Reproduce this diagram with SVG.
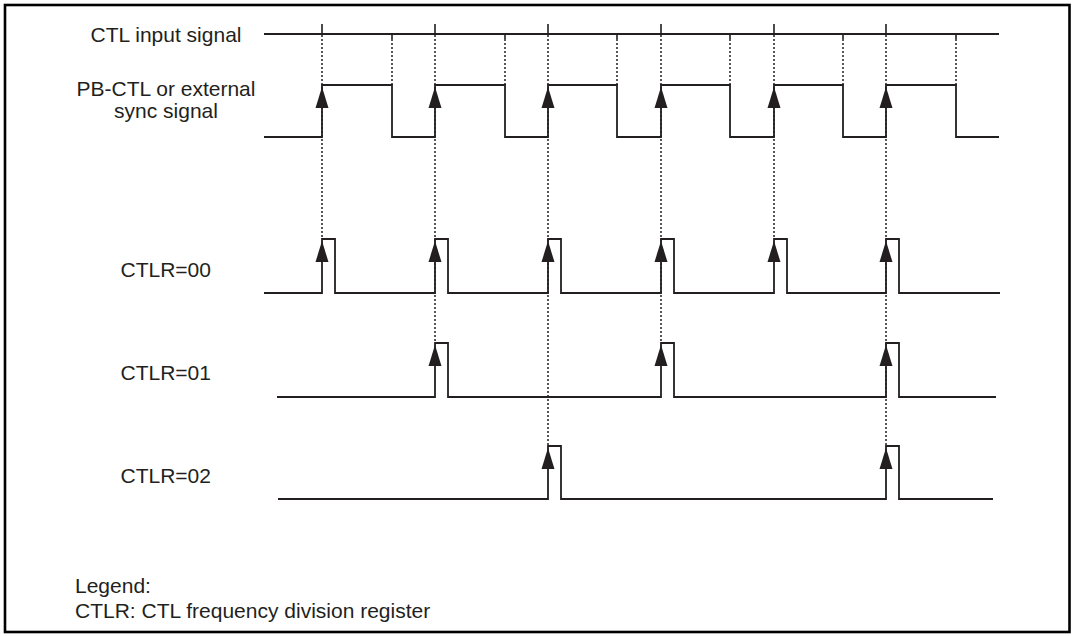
<svg xmlns="http://www.w3.org/2000/svg" xmlns:xlink="http://www.w3.org/1999/xlink" width="1074" height="636" viewBox="0 0 1074 636">
<style>
.sig{fill:none;stroke:#231f20;stroke-width:1.8;stroke-linejoin:miter}
.tick{stroke:#231f20;stroke-width:1.6}
.dot{stroke:#231f20;stroke-width:1.5;stroke-dasharray:2 2;fill:none}
.lbl{font-family:"Liberation Sans",Arial,sans-serif;font-size:21px;fill:#231f20}
.mid{text-anchor:middle}
.arr{fill:#231f20}
</style>
<defs>
<path id="arrow" class="arr" d="M0,0 L6.5,21 L-6.5,21 Z"/>
</defs>
<rect x="5" y="5" width="1064.5" height="627" fill="#ffffff" stroke="#000000" stroke-width="2.6"/>

<g id="connectors">
<line class="dot" x1="322" y1="35" x2="322" y2="239"/>
<line class="dot" x1="435" y1="35" x2="435" y2="343"/>
<line class="dot" x1="548" y1="35" x2="548" y2="446"/>
<line class="dot" x1="661" y1="35" x2="661" y2="343"/>
<line class="dot" x1="774" y1="35" x2="774" y2="239"/>
<line class="dot" x1="886" y1="35" x2="886" y2="446"/>
<line class="dot" x1="392" y1="39" x2="392" y2="85"/>
<line class="dot" x1="505" y1="39" x2="505" y2="85"/>
<line class="dot" x1="617" y1="39" x2="617" y2="85"/>
<line class="dot" x1="730" y1="39" x2="730" y2="85"/>
<line class="dot" x1="843" y1="39" x2="843" y2="85"/>
<line class="dot" x1="956" y1="39" x2="956" y2="85"/>
</g>

<g id="ctl-input">
<text class="lbl mid" x="166" y="41.5">CTL input signal</text>
<path class="sig" d="M264,34 H999"/>
<path class="tick" d="M322,24 V35 M435,24 V35 M548,24 V35 M661,24 V35 M774,24 V35 M886,24 V35 M392,34 V39 M505,34 V39 M617,34 V39 M730,34 V39 M843,34 V39 M956,34 V39"/>
</g>

<g id="pb-ctl">
<text class="lbl mid" x="166" y="95.5">PB-CTL or external</text>
<text class="lbl mid" x="166" y="118">sync signal</text>
<path class="sig" d="M264,137 H322 V85 H392 V137 H435 V85 H505 V137 H548 V85 H617 V137 H661 V85 H730 V137 H774 V85 H843 V137 H886 V85 H956 V137 H999"/>
<use xlink:href="#arrow" x="322" y="87"/>
<use xlink:href="#arrow" x="435" y="87"/>
<use xlink:href="#arrow" x="548" y="87"/>
<use xlink:href="#arrow" x="661" y="87"/>
<use xlink:href="#arrow" x="774" y="87"/>
<use xlink:href="#arrow" x="886" y="87"/>
</g>

<g id="ctlr00">
<text class="lbl" x="120.5" y="277">CTLR=00</text>
<path class="sig" d="M264,293 H322 V239 H335 V293 H435 V239 H448 V293 H548 V239 H561 V293 H661 V239 H674 V293 H774 V239 H787 V293 H886 V239 H899 V293 H1000"/>
<use xlink:href="#arrow" x="322" y="241"/>
<use xlink:href="#arrow" x="435" y="241"/>
<use xlink:href="#arrow" x="548" y="241"/>
<use xlink:href="#arrow" x="661" y="241"/>
<use xlink:href="#arrow" x="774" y="241"/>
<use xlink:href="#arrow" x="886" y="241"/>
</g>

<g id="ctlr01">
<text class="lbl" x="120.5" y="380">CTLR=01</text>
<path class="sig" d="M277,397 H435 V343 H448 V397 H661 V343 H674 V397 H886 V343 H899 V397 H996"/>
<use xlink:href="#arrow" x="435" y="345"/>
<use xlink:href="#arrow" x="661" y="345"/>
<use xlink:href="#arrow" x="886" y="345"/>
</g>

<g id="ctlr02">
<text class="lbl" x="120.5" y="482.5">CTLR=02</text>
<path class="sig" d="M278,499 H548 V446 H561 V499 H886 V446 H899 V499 H993"/>
<use xlink:href="#arrow" x="548" y="448"/>
<use xlink:href="#arrow" x="886" y="448"/>
</g>

<g id="legend">
<text class="lbl" x="75" y="593">Legend:</text>
<text class="lbl" x="75" y="617.5">CTLR: CTL frequency division register</text>
</g>
</svg>
